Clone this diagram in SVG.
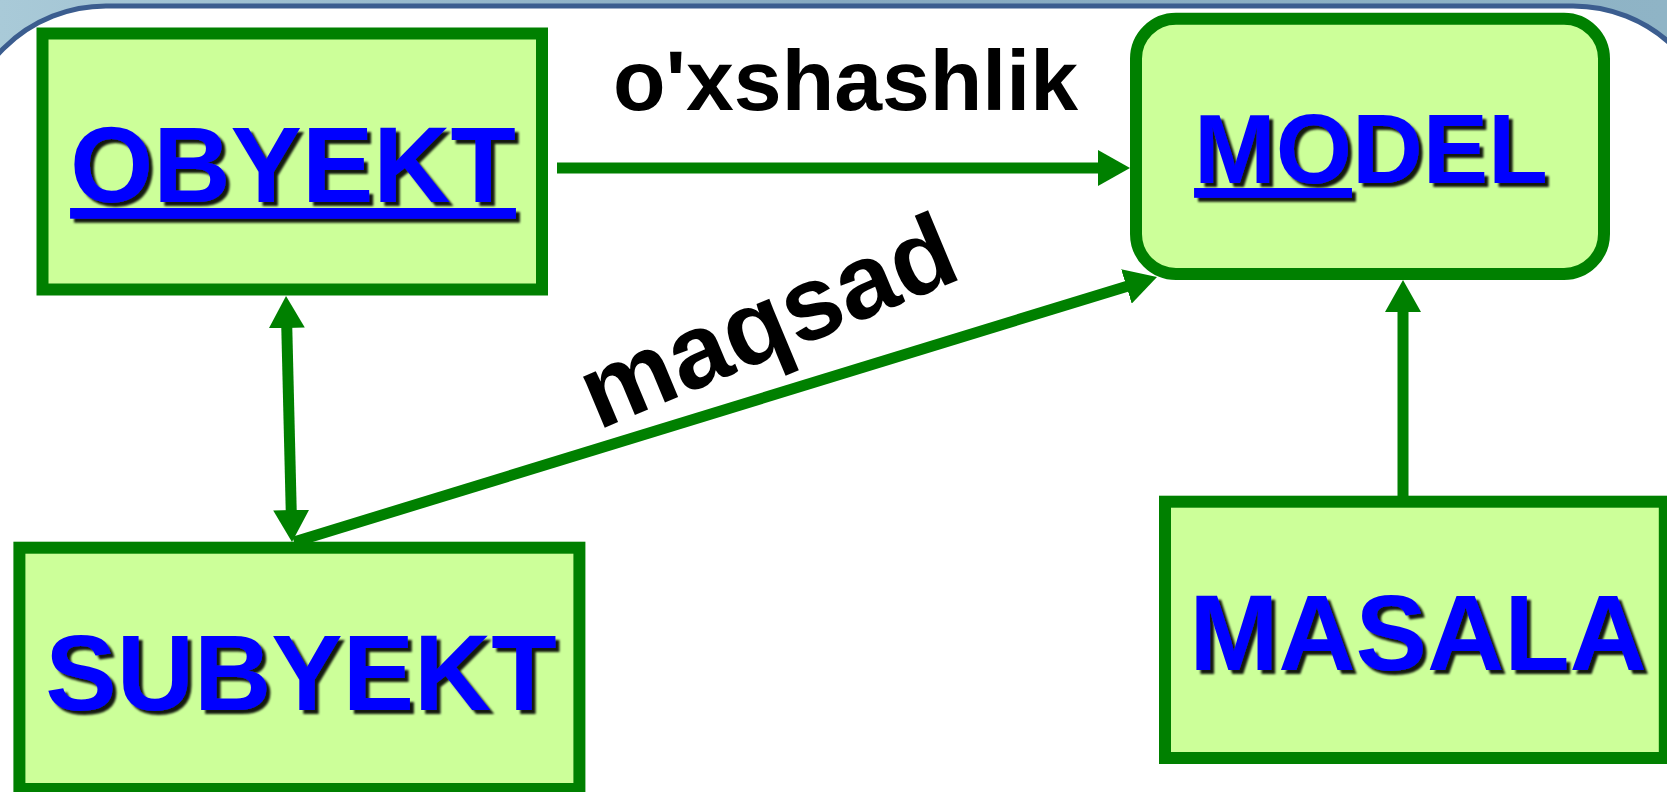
<svg xmlns="http://www.w3.org/2000/svg" width="1667" height="792" viewBox="0 0 1667 792">
  <style>
    .box { fill: #CCFF99; stroke: #008000; stroke-width: 12; }
    .lbl { font-family: "Liberation Sans", Arial, sans-serif; font-weight: bold; fill: #0000FF; text-anchor: middle; }
    .edge-lbl { font-family: "Liberation Sans", Arial, sans-serif; font-weight: bold; fill: #000000; text-anchor: middle; }
    .conn { fill: none; stroke: #008000; stroke-width: 11; }
  </style>
  <defs>
    <linearGradient id="frameGrad" x1="0" y1="0" x2="1" y2="0">
      <stop offset="0" stop-color="#a9cad8"/>
      <stop offset="0.5" stop-color="#86a9c0"/>
      <stop offset="1" stop-color="#8fb4c6"/>
    </linearGradient>
    <filter id="sh" x="-5%" y="-10%" width="115%" height="130%">
      <feDropShadow dx="4" dy="4" stdDeviation="1.2" flood-color="#000000" flood-opacity="0.9"/>
    </filter>
    <marker id="ah" markerUnits="userSpaceOnUse" markerWidth="32" markerHeight="36" viewBox="0 0 32 36" refX="12" refY="18" orient="auto-start-reverse">
      <path d="M0,0 L32,18 L0,36 z" fill="#008000"/>
    </marker>
  </defs>

  <!-- slide frame background -->
  <rect x="0" y="0" width="1667" height="792" fill="url(#frameGrad)"/>
  <rect x="-39" y="6" width="1757" height="900" rx="145" ry="145" fill="#ffffff" stroke="#3b5d8f" stroke-width="5"/>

  <!-- connectors -->
  <g id="connectors">
    <path class="conn" d="M557,168 H1110" marker-end="url(#ah)"/>
    <path class="conn" d="M1403,496 V300" marker-end="url(#ah)"/>
    <path class="conn" d="M286.5,316 L291.5,522" marker-start="url(#ah)" marker-end="url(#ah)"/>
    <path class="conn" d="M294,542 L1137.9,282.9" marker-end="url(#ah)"/>
    <text class="edge-lbl" x="845.5" y="110" font-size="86">o'xshashlik</text>
    <text class="edge-lbl" x="0" y="0" font-size="105" transform="translate(781,354) rotate(-22.7)">maqsad</text>
  </g>

  <!-- nodes -->
  <g id="obyekt">
    <rect class="box" x="42.5" y="33.5" width="499.5" height="256"/>
    <text class="lbl" x="293" y="202" font-size="107" filter="url(#sh)" text-decoration="underline">OBYEKT</text>
  </g>

  <g id="model">
    <rect class="box" x="1136" y="18.7" width="468" height="255.3" rx="40" ry="40"/>
    <text class="lbl" x="1371" y="183" font-size="98" filter="url(#sh)"><tspan text-decoration="underline">MO</tspan>DEL</text>
  </g>

  <g id="subyekt">
    <rect class="box" x="19.4" y="547.7" width="560" height="241.3"/>
    <text class="lbl" x="301" y="710" font-size="107" filter="url(#sh)">SUBYEKT</text>
  </g>

  <g id="masala">
    <rect class="box" x="1165" y="501.7" width="499.8" height="256.3"/>
    <text class="lbl" x="1418" y="670" font-size="107" filter="url(#sh)">MASALA</text>
  </g>
</svg>
